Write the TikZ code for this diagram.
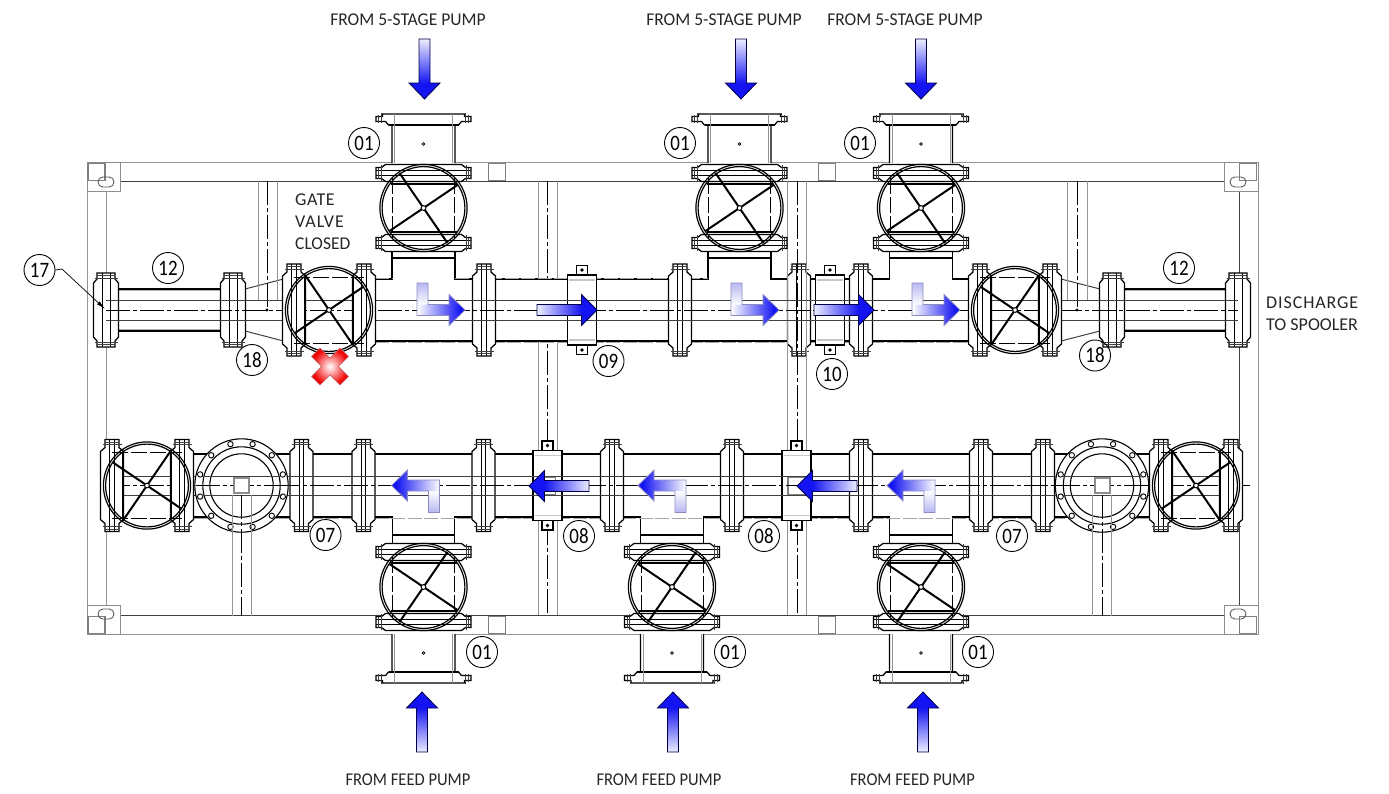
\documentclass[tikz,border=0pt]{standalone}
\usepackage{fontspec}
\usepackage{graphicx}
\setmainfont{Carlito}
\usetikzlibrary{arrows.meta}
\definecolor{bl}{rgb}{0.08,0.08,0.95}
\definecolor{pl}{rgb}{0.93,0.93,1}
\definecolor{lav}{rgb}{0.72,0.72,0.95}
\pgfdeclareverticalshading{vup}{100bp}{color(0bp)=(bl);color(38bp)=(bl);color(75bp)=(pl);color(100bp)=(pl)}
\pgfdeclareverticalshading{lhead}{100bp}{color(0bp)=(bl);color(30bp)=(bl);color(75bp)=(white);color(100bp)=(white)}
\pgfdeclareverticalshading{lstem}{100bp}{color(0bp)=(white);color(25bp)=(white);color(75bp)=(lav);color(100bp)=(lav)}
\tikzset{
  x=1pt,y=-1pt,
  blk/.style={draw=black,line width=1.25pt},
  thn/.style={draw=black!75,line width=.75pt},
  gry/.style={draw=black!42,line width=.95pt},
  gryd/.style={draw=black!35,line width=1pt,dash pattern=on 14pt off 2.5pt},
  dsh/.style={draw=black,line width=.8pt,dash pattern=on 16pt off 3pt},
  cl/.style={draw=black,line width=.8pt,dash pattern=on 24pt off 3pt on 4pt off 3pt},
  spk/.style={draw=black,line width=2pt},
  lab/.style={circle,draw=black,line width=.9pt,minimum size=31pt,inner sep=0pt,font=\fontsize{22}{22}\selectfont},
  txt/.style={inner sep=0pt,text=black!85,font=\fontsize{18}{18}\selectfont},
  arrowb/.style={draw=black!70!blue,line width=.8pt,line join=miter},
  larrowb/.style={draw=blue!45!black!45,line width=.8pt},
}
\newcommand{\Num}[1]{\scalebox{.86}[1]{#1}}
\newcommand{\Flange}[8]{%
 \begin{scope}[shift={(#1,#2)},rotate=#3]
  \path[blk,fill=white] (#5,-#6)--(#5,-#7-4)--(#4,-#7)--(#4,#7)--(#5,#7+4)--(#5,#6)--(-#5,#6)--(-#5,#7+4)--(-#4,#7)--(-#4,-#7)--(-#5,-#7-4)--(-#5,-#6)--cycle;
  \draw[blk,line width=.9pt] (-#8,-#6)--(-#8,#6) (#8,-#6)--(#8,#6);
  \draw[thn] (-#5-2.5,-#6+5)--(#5+2.5,-#6+5) (-#5-2.5,#6-5)--(#5+2.5,#6-5);
  \draw[thn,line width=.6pt] (-#5,-#6+2.5)--(#5,-#6+2.5) (-#5,#6-2.5)--(#5,#6-2.5);
 \end{scope}}
\newcommand{\BigF}[2]{\Flange{#1}{#2}{0}{11.5}{7}{46}{34}{2.2}}
\newcommand{\SmallF}[2]{\Flange{#1}{#2}{0}{12.5}{9}{37}{27}{4}}
\newcommand{\Spokes}[3]{%
 \begin{scope}[shift={(#1,#2)},xscale=#3]
  \draw[spk] (-24,-35)--(24,35) (34,-23)--(-34,23);
  \draw[line width=1pt,fill=white] (0,0) circle (2.4);
 \end{scope}}
\newcommand{\Wheel}[2]{\draw[line width=1.2pt] (#1,#2) circle (43.6) (#1,#2) circle (41.4);}
\newcommand{\HValve}[3]{%
 \Flange{#1-35}{#2}{0}{11.5}{7}{46}{34}{2.2}\Flange{#1+35}{#2}{0}{11.5}{7}{46}{34}{2.2}
 \begin{scope}[shift={(#1,#2)}]
  \draw[dsh] (-35,-33)--(35,-33) (-35,33)--(35,33);
  \draw[blk] (-24,-33)--(-24,33) (24,-33)--(24,33);
 \end{scope}
 \Wheel{#1}{#2}\Spokes{#1}{#2}{#3}}
\newcommand{\VValve}[3]{%
 \Flange{#1}{#2-35}{90}{8.5}{5.5}{47.5}{38}{2.2}\Flange{#1}{#2+35}{90}{8.5}{5.5}{47.5}{38}{2.2}
 \begin{scope}[shift={(#1,#2)}]
  \draw[dsh] (-31,-30)--(-31,30) (31,-30)--(31,30);
  \draw[blk] (-33,-24)--(33,-24) (-33,24)--(33,24);
 \end{scope}
 \Wheel{#1}{#2}\Spokes{#1}{#2}{#3}}
\newcommand{\Spool}[3]{%
 \begin{scope}[shift={(#1,#2)},yscale=#3]
  \path[blk,fill=white] (-31.5,49)--(-31.5,11)--(-35,11)--(-38,7.5)--(-47.5,7.5)--(-47.5,2.5)--(-41,2.5)--(-41,0)--(41,0)--(41,2.5)--(47.5,2.5)--(47.5,7.5)--(38,7.5)--(35,11)--(31.5,11)--(31.5,49);
  \draw[blk] (-35,11)--(35,11);
  \draw[gry] (-29,0)--(-29,49) (29,0)--(29,49);
  \draw[thn] (-42,-1)--(-42,9) (-45,1)--(-45,9) (42,-1)--(42,9) (45,1)--(45,9);
  \draw[line width=.7pt,fill=white] (0,30) circle (1.3);
 \end{scope}}
\newcommand{\Coupling}[2]{%
 \begin{scope}[shift={(#1,#2)}]
  \path[blk,fill=white] (-5.5,-44.5) rectangle (5.5,-35);
  \path[blk,fill=white] (-5.5,35) rectangle (5.5,44.5);
  \fill (0,-40) circle (1.8) (0,40) circle (1.8);
  \path[draw=black,line width=1.5pt,fill=white] (-14.5,-35) rectangle (14.5,35);
  \draw[black!22,line width=1.6pt] (-13,-30)--(13,-30) (-13,30)--(13,30);
 \end{scope}}
\newcommand{\GSq}[2]{\draw[black!50,line width=1.5pt] (#1-8.5,#2-8.5) rectangle (#1+8.5,#2+8.5);}
\newcommand{\Disc}[2]{%
 \begin{scope}[shift={(#1,#2)}]
  \draw[line width=1.1pt,fill=white] (0,0) circle (46.7);
  \draw[line width=1.1pt] (0,0) circle (38.7) (0,0) circle (31.7);
  \foreach \a in {15,45,...,345}{\draw[line width=.9pt,fill=white] (\a:42.8) circle (2.7);}
  \draw[thn] (-40,-9.5)--(40,-9.5) (-40,9.5)--(40,9.5);
  \draw[cl] (-46,0)--(46,0);
  \draw[gry] (-9.5,9)--(-9.5,130) (9.5,9)--(9.5,130);
  \draw[cl] (0,9)--(0,130);
  \path[draw=black!45,line width=2pt,fill=white] (-7.5,-7.5) rectangle (7.5,7.5);
 \end{scope}}
\newcommand{\ArrowV}[3]{%
 \begin{scope}[shift={(#1,#2)},yscale=#3]
  \ifnum#3=1\relax
  \path[arrowb,shading=vup,shading angle=0] (-5.5,-60)--(5.5,-60)--(5.5,-16)--(15.5,-16)--(0,0)--(-15.5,-16)--(-5.5,-16)--cycle;
  \else
  \path[arrowb,shading=vup,shading angle=180] (-5.5,-60)--(5.5,-60)--(5.5,-16)--(15.5,-16)--(0,0)--(-15.5,-16)--(-5.5,-16)--cycle;
  \fi
 \end{scope}}
\newcommand{\ArrowH}[3]{%
 \begin{scope}[shift={(#1,#2)},xscale=#3]
  \ifnum#3=1\relax
  \path[arrowb,shading=vup,shading angle=90] (-60,-5.5)--(-15.5,-5.5)--(-15.5,-15.5)--(0,0)--(-15.5,15.5)--(-15.5,5.5)--(-60,5.5)--cycle;
  \else
  \path[arrowb,shading=vup,shading angle=-90] (-60,-5.5)--(-15.5,-5.5)--(-15.5,-15.5)--(0,0)--(-15.5,15.5)--(-15.5,5.5)--(-60,5.5)--cycle;
  \fi
 \end{scope}}
\newcommand{\LArrow}[3]{%
 \begin{scope}[shift={(#1,#2)},scale=#3]
  \ifnum#3=1\relax
  \path[shading=lstem,shading angle=0] (-48,-27)--(-37,-27)--(-37,-5)--(-48,-5)--cycle;
  \path[shading=lhead,shading angle=90] (-48,-5.5)--(-16,-5.5)--(-16,-15.5)--(0,0)--(-16,15.5)--(-16,5.5)--(-48,5.5)--cycle;
  \else
  \path[shading=lstem,shading angle=180] (-48,-27)--(-37,-27)--(-37,-5)--(-48,-5)--cycle;
  \path[shading=lhead,shading angle=-90] (-48,-5.5)--(-16,-5.5)--(-16,-15.5)--(0,0)--(-16,15.5)--(-16,5.5)--(-48,5.5)--cycle;
  \fi
  \draw[larrowb] (-48,-27)--(-37,-27)--(-37,-5.5)--(-16,-5.5)--(-16,-15.5)--(0,0)--(-16,15.5)--(-16,5.5)--(-48,5.5)--cycle;
 \end{scope}}
\begin{document}
\begin{tikzpicture}
\useasboundingbox (0,0) rectangle (1389,793);
% ---------- frame
\draw[gry] (87,162) rectangle (1258,634);
\draw[thn] (120,181)--(1224,181) (120,615)--(1224,615);
\draw[gry] (106,191)--(106,605);
\draw[thn] (1239,191)--(1239,605);
\foreach \a/\b/\c/\d in {87/162/120/191,1224/162/1258/191,87/605/120/634,1224/605/1258/634}
  {\draw[black!45,line width=.9pt] (\a,\b) rectangle (\c,\d);}
\foreach \a/\b in {96.5/172,1248/172,96.5/625,1248/625,497/172,827/172,497/625,827/625}
  {\GSq{\a}{\b}}
\foreach \a/\b in {106/182,1238/182,106/614,1238/614}
  {\draw[black!65,line width=.9pt,rounded corners=4.9pt] (\a-8,\b-5) rectangle (\a+8,\b+5);}
% ---------- beam behind the pipes
\draw[gry] (538,181)--(538,615) (557,181)--(557,615);
\draw[cl] (547.5,181)--(547.5,615);
% ---------- pipes
\path[blk,fill=white] (375,279)--(392,279)--(392,258)--(455,258)--(455,279)--(708,279)--(708,258)--(771,258)--(771,279)--(889.5,279)--(889.5,258)--(952.5,258)--(952.5,279)--(971,279)--(971,341)--(375,341)--cycle;
\path[blk,fill=white] (193,454)--(1151,454)--(1151,517)--(952.5,517)--(952.5,535)--(889.5,535)--(889.5,517)--(703.5,517)--(703.5,535)--(640.5,535)--(640.5,517)--(454.5,517)--(454.5,535)--(392.5,535)--(392.5,517)--(193,517)--cycle;
\draw[blk] (392,258)--(392,248) (455,258)--(455,248) (708,258)--(708,248) (771,258)--(771,248) (889.5,258)--(889.5,248) (952.5,258)--(952.5,248);
\draw[blk] (392.5,535)--(392.5,546) (454.5,535)--(454.5,546) (640.5,535)--(640.5,546) (703.5,535)--(703.5,546) (889.5,535)--(889.5,546) (952.5,535)--(952.5,546);
\draw[gryd] (375,342.5)--(971,342.5) (193,518.5)--(1151,518.5) (375,278)--(392,278) (455,278)--(708,278);
% end spools and reducers
\path[blk,fill=white] (118,289)--(222,289)--(222,331)--(118,331)--cycle;
\path[blk,fill=white] (1124,289)--(1226,289)--(1226,331)--(1124,331)--cycle;
\draw[draw=black!30,line width=1pt] (118,290.5)--(222,290.5) (118,329.5)--(222,329.5) (1124,290.5)--(1226,290.5) (1124,329.5)--(1226,329.5);
\draw[thn,line width=1pt] (245,289)--(283.5,279) (245,331)--(283.5,341) (1100,289)--(1061,279) (1100,331)--(1061,341);
% ---------- short beams
\draw[gry] (258,181)--(258,300) (277,181)--(277,300) (1067,181)--(1067,300) (1087,181)--(1087,300);
\draw[cl] (267,181)--(267,310) (1077,181)--(1077,310);
\fill (267,310) circle (1.7) (1077,310) circle (1.7);
% ---------- flanges
\foreach \a in {484,680,799,861}{\BigF{\a}{310}}
\foreach \a in {301.5,363.5,483.5,612,732,861,981,1043}{\BigF{\a}{485.5}}
\foreach \a in {106,233,1112,1238}{\SmallF{\a}{310}}
% ---------- through beam
\draw[gry] (787,181)--(787,615) (806,181)--(806,615);
\draw[cl] (797,181)--(797,615);
% ---------- couplings
\Coupling{582}{310}\Coupling{830}{310}\Coupling{547.5}{485.5}\Coupling{796.5}{485.5}
\GSq{547}{486}\GSq{796.5}{486}
% ---------- pipe inner lines and centre lines
\draw[thn] (106,300)--(1238,300) (106,320)--(1238,320);
\draw[thn] (106,476)--(1238,476) (106,495)--(1238,495);
\draw[cl] (106,310)--(1238,310) (106,485.5)--(1250,485.5);
% ---------- valves
\HValve{329}{310}{1}\HValve{1015}{310}{-1}\HValve{147}{485.5}{-1}\HValve{1196}{485.5}{1}
\Spool{423.5}{114}{1}\Spool{739.5}{114}{1}\Spool{921}{114}{1}
\VValve{423.5}{208}{1}\VValve{739.5}{208}{1}\VValve{921}{208}{1}
\Spool{423.5}{683}{-1}\Spool{672}{683}{-1}\Spool{921}{683}{-1}
\VValve{423.5}{587}{-1}\VValve{672}{587}{-1}\VValve{921}{587}{-1}
\Disc{241.5}{485.5}\Disc{1102}{485.5}
% ---------- flow arrows
\ArrowV{424.5}{99}{1}\ArrowV{741}{99}{1}\ArrowV{921}{99}{1}
\ArrowV{422}{692}{-1}\ArrowV{673}{692}{-1}\ArrowV{923}{692}{-1}
\LArrow{465}{310}{1}\LArrow{779}{310}{1}\LArrow{960}{310}{1}
\LArrow{391.5}{485.5}{-1}\LArrow{638}{485.5}{-1}\LArrow{887}{485.5}{-1}
\ArrowH{597}{310}{1}\ArrowH{874}{310}{1}\ArrowH{529}{486}{-1}\ArrowH{797}{486}{-1}
% ---------- closed mark
\begin{scope}[shift={(330,366.5)},rotate=45]
 \path[draw=red!60!black!60,line width=.7pt,inner color=white,outer color=red!95!black]
  (-6,-20)--(6,-20)--(6,-6)--(20,-6)--(20,6)--(6,6)--(6,20)--(-6,20)--(-6,6)--(-20,6)--(-20,-6)--(-6,-6)--cycle;
\end{scope}
% ---------- item labels
\node[lab] (n17) at (39.5,270) {\Num{17}};
\node[lab] (n12a) at (168,268) {\Num{12}};
\node[lab] (n18a) at (252,360) {\Num{18}};
\node[lab] (n01a) at (364,143) {\Num{01}};
\node[lab] (n01b) at (680,143) {\Num{01}};
\node[lab] (n01c) at (860,143) {\Num{01}};
\node[lab] (n09) at (608.5,361) {\Num{09}};
\node[lab] (n10) at (832,374) {\Num{10}};
\node[lab] (n18b) at (1095,355.5) {\Num{18}};
\node[lab] (n12b) at (1179,268) {\Num{12}};
\node[lab] (n07a) at (325.5,535) {\Num{07}};
\node[lab] (n08a) at (579,536) {\Num{08}};
\node[lab] (n08b) at (764,536) {\Num{08}};
\node[lab] (n07b) at (1012,536) {\Num{07}};
\node[lab] (n01d) at (482,652) {\Num{01}};
\node[lab] (n01e) at (730,652) {\Num{01}};
\node[lab] (n01f) at (978,652) {\Num{01}};
\coordinate (t17) at (105,309);
\draw[line width=.7pt,-{Latex[length=9pt,width=4pt]}] (n17.east)--(62,269)--(t17);
% ---------- captions
\node[txt] (c1) at (408,20) {\scalebox{.975}[1]{FROM 5-STAGE PUMP}};
\node[txt] (c2) at (724,20) {\scalebox{.975}[1]{FROM 5-STAGE PUMP}};
\node[txt] (c3) at (905,20) {\scalebox{.975}[1]{FROM 5-STAGE PUMP}};
\node[txt] (c4) at (408,780) {\scalebox{.92}[1]{FROM FEED PUMP}};
\node[txt] (c5) at (659,780) {\scalebox{.92}[1]{FROM FEED PUMP}};
\node[txt] (c6) at (912.5,780) {\scalebox{.92}[1]{FROM FEED PUMP}};
\node[txt,anchor=west] (g1) at (295,200) {\addfontfeature{LetterSpace=3}GATE};
\node[txt,anchor=west] (g2) at (295,222) {\addfontfeature{LetterSpace=5}VALVE};
\node[txt,anchor=west] (g3) at (295,244) {\scalebox{.97}[1]{CLOSED}};
\node[txt,anchor=west] (d1) at (1266,303) {\addfontfeature{LetterSpace=5}DISCHARGE};
\node[txt,anchor=west] (d2) at (1266,325) {TO SPOOLER};
\end{tikzpicture}
\end{document}
